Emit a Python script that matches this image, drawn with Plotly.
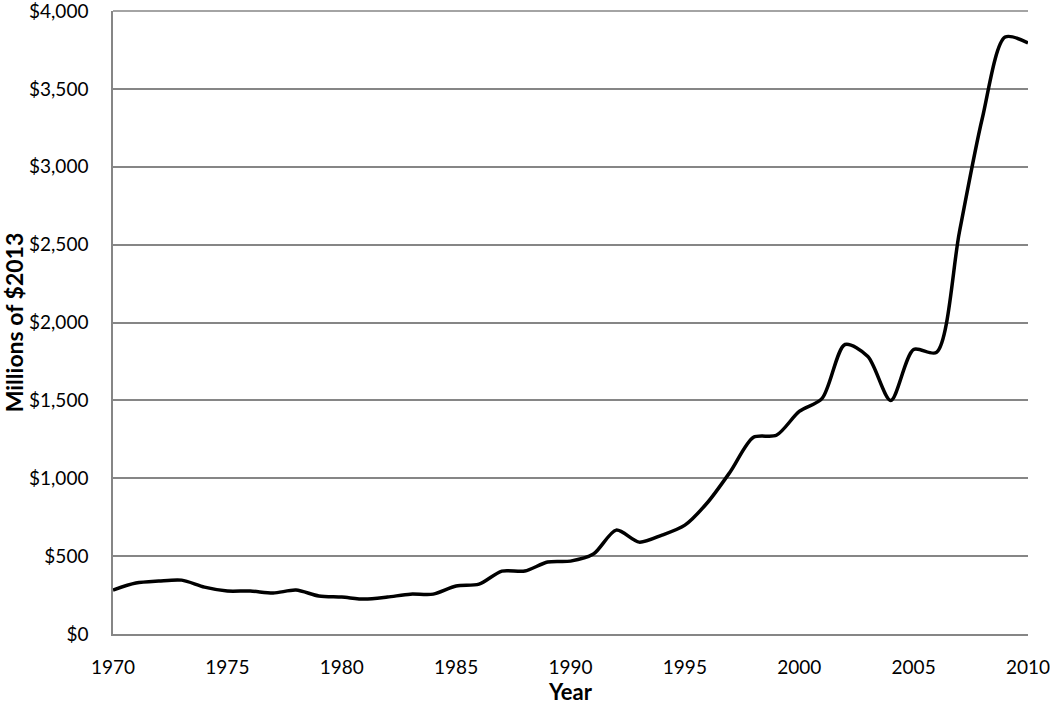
import plotly.graph_objects as go

years = list(range(1970, 2011))
values = [282, 327, 340, 346, 301, 276, 276, 263, 282, 244,
          237, 224, 237, 256, 256, 308, 320, 404, 404, 462,
          468, 513, 667, 590, 635, 699, 846, 1045, 1263, 1276,
          1429, 1513, 1859, 1782, 1500, 1827, 1808, 2580, 3310, 3833,
          3795]
y_ticks = [0, 500, 1000, 1500, 2000, 2500, 3000, 3500, 4000]
y_labels = ["$0", "$500", "$1,000", "$1,500", "$2,000", "$2,500", "$3,000", "$3,500", "$4,000"]
x_ticks = [1970, 1975, 1980, 1985, 1990, 1995, 2000, 2005, 2010]

fig = go.Figure()
fig.add_trace(go.Scatter(x=years, y=values, mode="lines",
                         line=dict(color="black", width=3.5, shape="spline", smoothing=0.8),
                         showlegend=False, hoverinfo="x+y"))

font_family = "Lato, Open Sans, sans-serif"
grid = "#868686"
fig.update_layout(
    width=1050, height=706,
    margin=dict(l=113, r=22, t=11, b=72),
    paper_bgcolor="white", plot_bgcolor="white",
    font=dict(family=font_family, size=19, color="black"),
    xaxis=dict(range=[1970, 2010], tickvals=x_ticks, ticks="", showgrid=False,
               showline=True, linecolor=grid, linewidth=1.5, zeroline=False,
               automargin=False, ticklabelstandoff=15, ticklabeloverflow="allow",
               title=dict(text="<b>Year</b>", font=dict(size=22), standoff=8),
               tickfont=dict(size=19)),
    yaxis=dict(range=[0, 4000.5], tickvals=y_ticks, ticktext=y_labels, ticks="",
               showgrid=True, gridcolor=grid, gridwidth=1.5,
               showline=True, linecolor=grid, linewidth=1.5, zeroline=False,
               automargin=False, ticklabelstandoff=19, ticklabeloverflow="allow",
               title=dict(text="<b>Millions of $2013</b>", font=dict(size=23), standoff=14),
               tickfont=dict(size=19)),
)
fig.add_shape(type="line", xref="paper", yref="paper", x0=0, x1=1, y0=1, y1=1,
              line=dict(color=grid, width=1.5))
fig.write_html("out.html", config={"displayModeBar": False},
               post_script="document.body.style.margin='0';")
